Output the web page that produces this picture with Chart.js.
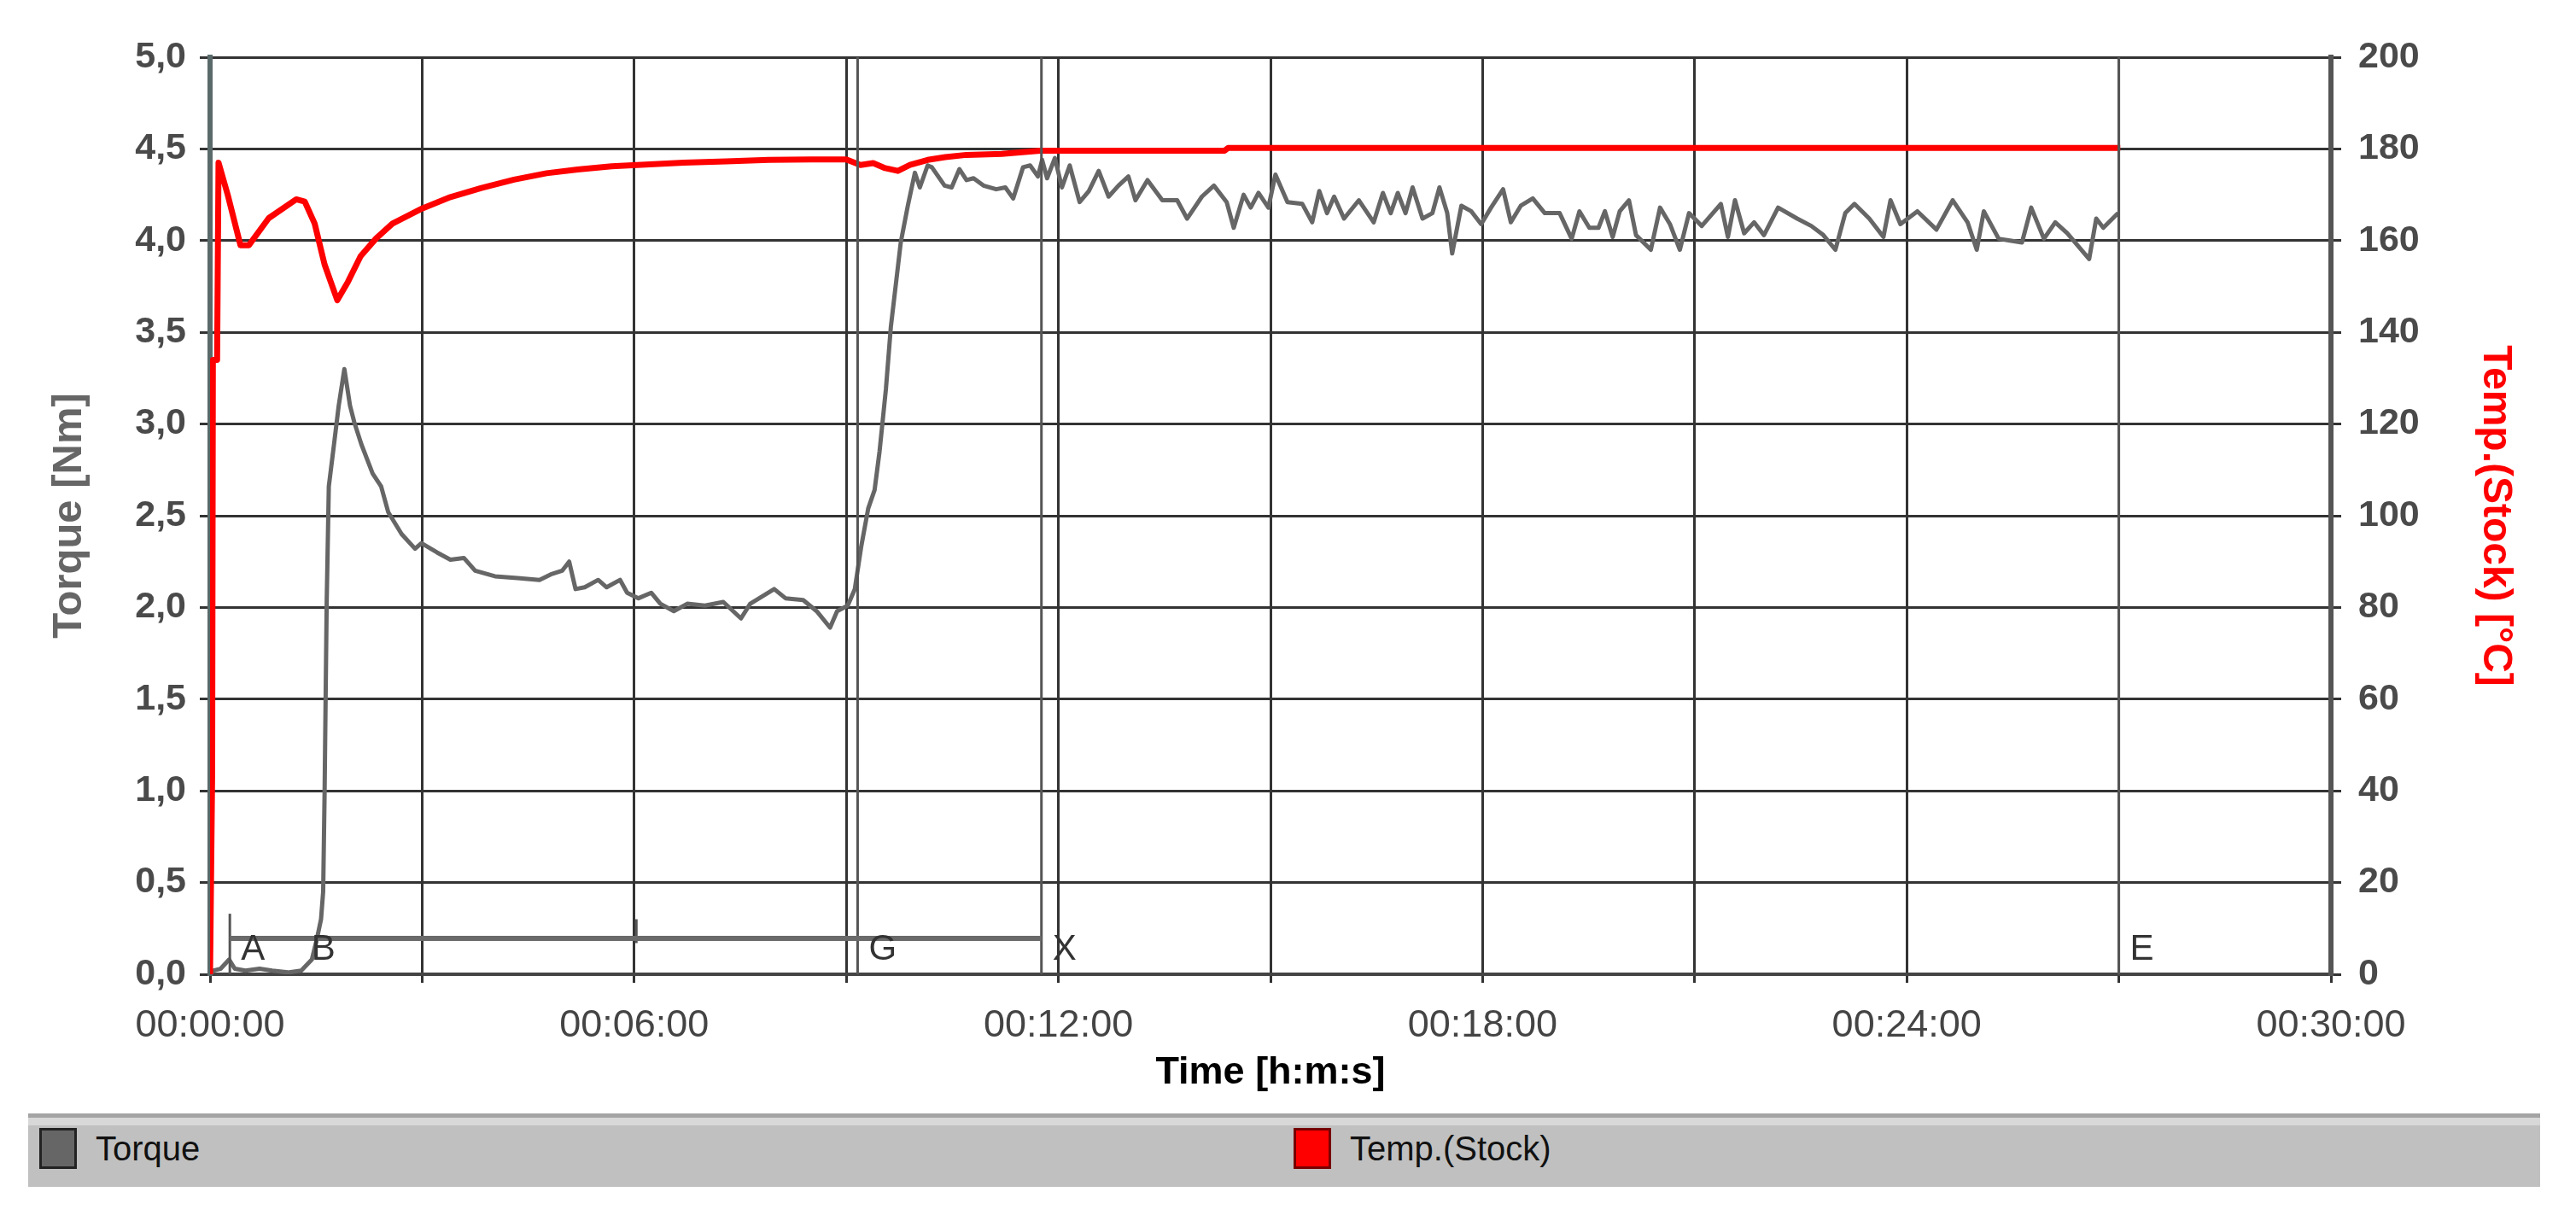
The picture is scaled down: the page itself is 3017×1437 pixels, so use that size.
<!DOCTYPE html>
<html>
<head>
<meta charset="utf-8">
<title>Torque / Temp.(Stock)</title>
<script src="https://cdn.jsdelivr.net/npm/chart.js@4.4.1/dist/chart.umd.min.js"></script>
<style>
  html, body { margin: 0; padding: 0; background: #fff; }
  #wrap { position: absolute; left: 0; top: 0; width: 3017px; height: 1300px; }
  #legend {
    position: absolute; left: 33px; top: 1304px; width: 2942px; height: 86px;
    background: linear-gradient(#a4a4a4 0, #a4a4a4 5px, #d8d8d8 5px, #d8d8d8 14px, #c0c0c0 14px);
    font-family: "Liberation Sans", sans-serif; font-size: 40px; color: #111;
  }
  .item { position: absolute; top: 14px; height: 54px; display: flex; align-items: center; }
  .swatch { width: 44px; height: 48px; box-sizing: border-box; margin-right: 22px; }
</style>
</head>
<body>
<div id="wrap"><canvas id="rheoChart"></canvas></div>
<div id="legend">
  <div class="item" style="left: 13px;"><span class="swatch" style="background:#666; border:3px solid #222;"></span>Torque</div>
  <div class="item" style="left: 1482px;"><span class="swatch" style="background:#ff0000; border:3px solid #700;"></span>Temp.(Stock)</div>
</div>
<script>
// time in minutes, torque in Nm
const torqueTime = [
  0, 0.05, 0.15, 0.27, 0.35, 0.5, 0.7, 0.88, 1.1, 1.29, 1.44, 1.51, 1.57, 1.60, 1.62, 1.65, 1.68, 1.76, 1.82, 1.90,
  1.98, 2.04, 2.14, 2.30, 2.42, 2.52, 2.71, 2.90, 2.99, 3.21, 3.40, 3.59, 3.75, 4.03, 4.35, 4.66, 4.82, 4.98, 5.08, 5.17,
  5.30, 5.49, 5.61, 5.80, 5.90, 6.06, 6.24, 6.37, 6.56, 6.75, 7.00, 7.26, 7.51, 7.64, 7.98, 8.14, 8.39, 8.58, 8.77, 8.87,
  9.02, 9.12, 9.21, 9.31, 9.40, 9.47, 9.56, 9.63, 9.77, 9.87, 9.97, 10.04, 10.15, 10.21, 10.39, 10.49, 10.60, 10.70, 10.80, 10.94,
  11.12, 11.25, 11.36, 11.50, 11.60, 11.71, 11.77, 11.84, 11.95, 12.05, 12.16, 12.30, 12.43, 12.57, 12.71, 12.85, 12.99, 13.09, 13.26, 13.47,
  13.68, 13.82, 14.03, 14.20, 14.38, 14.48, 14.62, 14.72, 14.83, 14.97, 15.07, 15.24, 15.45, 15.59, 15.69, 15.80, 15.90, 16.04, 16.25, 16.46,
  16.59, 16.70, 16.80, 16.91, 17.01, 17.15, 17.29, 17.39, 17.50, 17.57, 17.70, 17.84, 17.98, 18.12, 18.29, 18.40, 18.54, 18.71, 18.88, 19.09,
  19.26, 19.37, 19.51, 19.64, 19.73, 19.84, 19.94, 20.07, 20.17, 20.38, 20.51, 20.65, 20.79, 20.92, 21.10, 21.37, 21.47, 21.57, 21.70, 21.84,
  21.98, 22.18, 22.45, 22.65, 22.82, 22.99, 23.13, 23.26, 23.47, 23.67, 23.77, 23.91, 24.15, 24.42, 24.65, 24.86, 24.99, 25.09, 25.30, 25.46,
  25.63, 25.76, 25.94, 26.10, 26.27, 26.58, 26.68, 26.78, 26.99
];
const torqueValue = [
  0, 0.02, 0.03, 0.08, 0.03, 0.02, 0.03, 0.02, 0.01, 0.02, 0.08, 0.19, 0.30, 0.45, 0.98, 2.03, 2.66, 2.91, 3.10, 3.30,
  3.10, 3.01, 2.89, 2.73, 2.66, 2.52, 2.40, 2.32, 2.35, 2.30, 2.26, 2.27, 2.20, 2.17, 2.16, 2.15, 2.18, 2.20, 2.25, 2.10,
  2.11, 2.15, 2.11, 2.15, 2.08, 2.05, 2.08, 2.02, 1.98, 2.02, 2.01, 2.03, 1.94, 2.02, 2.10, 2.05, 2.04, 1.98, 1.89, 1.98,
  2.01, 2.10, 2.33, 2.54, 2.64, 2.85, 3.19, 3.53, 3.99, 4.19, 4.37, 4.29, 4.41, 4.40, 4.30, 4.29, 4.39, 4.33, 4.34, 4.30,
  4.28, 4.29, 4.23, 4.40, 4.41, 4.35, 4.44, 4.34, 4.45, 4.29, 4.41, 4.21, 4.27, 4.38, 4.24, 4.30, 4.35, 4.22, 4.33, 4.22,
  4.22, 4.12, 4.24, 4.30, 4.21, 4.07, 4.25, 4.18, 4.26, 4.18, 4.36, 4.21, 4.20, 4.10, 4.27, 4.15, 4.24, 4.12, 4.22, 4.10,
  4.26, 4.15, 4.26, 4.15, 4.29, 4.12, 4.15, 4.29, 4.15, 3.93, 4.19, 4.16, 4.09, 4.18, 4.28, 4.10, 4.19, 4.23, 4.15, 4.15,
  4.01, 4.16, 4.07, 4.07, 4.16, 4.02, 4.16, 4.22, 4.03, 3.95, 4.18, 4.09, 3.95, 4.15, 4.08, 4.20, 4.02, 4.22, 4.04, 4.10,
  4.03, 4.18, 4.12, 4.08, 4.03, 3.95, 4.15, 4.20, 4.12, 4.02, 4.22, 4.09, 4.16, 4.06, 4.22, 4.10, 3.95, 4.16, 4.01, 4.00,
  3.99, 4.18, 4.01, 4.10, 4.04, 3.90, 4.12, 4.07, 4.15
];

// time in minutes, stock temperature in °C
const tempTime = [
  0, 0.03, 0.04, 0.10, 0.12, 0.25, 0.43, 0.55, 0.83, 1.22, 1.34, 1.48, 1.62, 1.80, 1.95, 2.13, 2.35, 2.58, 3.0, 3.4,
  3.84, 4.3, 4.76, 5.2, 5.68, 6.7, 7.3, 7.9, 8.5, 9.0, 9.2, 9.38, 9.55, 9.73, 9.9, 10.15, 10.4, 10.7, 11.2, 11.74,
  14.35, 14.4, 27.02
];
const tempValue = [
  0, 44, 134, 134, 177, 170, 159, 159, 164.9, 169, 168.5, 163.7, 154.8, 147, 151, 156.6, 160.5, 163.7, 167, 169.5,
  171.5, 173.3, 174.7, 175.5, 176.2, 177, 177.3, 177.6, 177.7, 177.7, 176.5, 176.9, 175.8, 175.2, 176.5, 177.6, 178.2, 178.7, 178.9, 179.6,
  179.6, 180.2, 180.2
];

// event markers on the time axis
const markerLabels = ['A', 'B', 'G', 'X', 'E'];
const markerTimes = [0.28, 1.53, 9.16, 11.76, 27.0];
const markerFullLine = [false, false, true, true, true];
const barStart = 0.28;
const barEnd = 11.76;
const barLevel = 0.195;
const smallTickTimes = [6.03];

const timeLabel = m => '00:' + String(m).padStart(2, '0') + ':00';

const markersPlugin = {
    id: 'markers',
    afterDatasetsDraw(chart) {
        const ctx = chart.ctx;
        const x = chart.scales.x;
        const y = chart.scales.y;
        const area = chart.chartArea;
        ctx.save();
        ctx.strokeStyle = '#555';
        ctx.lineWidth = 3;
        // marker lines (B has none of its own)
        markerTimes.forEach((t, i) => {
            if (i === 1) return;
            const px = x.getPixelForValue(t);
            const top = markerFullLine[i] ? area.top : y.getPixelForValue(0.33);
            ctx.beginPath();
            ctx.moveTo(px, top);
            ctx.lineTo(px, area.bottom);
            ctx.stroke();
        });
        smallTickTimes.forEach(t => {
            const px = x.getPixelForValue(t);
            ctx.beginPath();
            ctx.moveTo(px, y.getPixelForValue(0.30));
            ctx.lineTo(px, y.getPixelForValue(0.17));
            ctx.stroke();
        });
        // horizontal bar between A and X
        ctx.strokeStyle = '#6a6a6a';
        ctx.lineWidth = 6;
        ctx.beginPath();
        ctx.moveTo(x.getPixelForValue(barStart), y.getPixelForValue(barLevel));
        ctx.lineTo(x.getPixelForValue(barEnd), y.getPixelForValue(barLevel));
        ctx.stroke();
        // letters
        ctx.fillStyle = '#333';
        ctx.font = '42px "Liberation Sans", sans-serif';
        ctx.textBaseline = 'middle';
        ctx.textAlign = 'left';
        markerTimes.forEach((t, i) => {
            const px = x.getPixelForValue(t);
            const dx = i === 1 ? -8 : 13;
            ctx.fillText(markerLabels[i], px + dx, y.getPixelForValue(0.135));
        });
        ctx.restore();
    }
};

document.addEventListener('DOMContentLoaded', function () {
    const torquePoints = torqueTime.map((t, i) => ({ x: t, y: torqueValue[i] }));
    const tempPoints = tempTime.map((t, i) => ({ x: t, y: tempValue[i] }));

    const ctx = document.getElementById('rheoChart').getContext('2d');
    const rheoChart = new Chart(ctx, {
        type: 'line',
        data: {
            datasets: [{
                label: 'Torque',
                data: torquePoints,
                yAxisID: 'y',
                borderColor: '#666666',
                borderWidth: 5,
                borderJoinStyle: 'round',
                pointRadius: 0,
                tension: 0,
                order: 1
            }, {
                label: 'Temp.(Stock)',
                data: tempPoints,
                yAxisID: 'y1',
                borderColor: '#ff0000',
                borderWidth: 7,
                borderJoinStyle: 'round',
                pointRadius: 0,
                tension: 0,
                order: 0
            }]
        },
        options: {
            responsive: true,
            maintainAspectRatio: false,
            animation: false,
            layout: {
                padding: { top: 67, left: 0, right: 0, bottom: 0 }
            },
            plugins: {
                legend: { display: false },
                tooltip: { enabled: false }
            },
            scales: {
                x: {
                    type: 'linear',
                    min: 0,
                    max: 30,
                    afterFit: s => { s.height = 159; },
                    border: { color: '#444', width: 4 },
                    grid: {
                        color: '#333',
                        lineWidth: 3,
                        tickLength: 10
                    },
                    ticks: {
                        stepSize: 3,
                        autoSkip: false,
                        maxRotation: 0,
                        padding: 24,
                        color: '#444',
                        font: { family: '"Liberation Sans", sans-serif', size: 45 },
                        callback: v => (v % 6 === 0 ? timeLabel(v) : '')
                    },
                    title: {
                        display: true,
                        text: 'Time [h:m:s]',
                        color: '#000',
                        font: { family: '"Liberation Sans", sans-serif', size: 45, weight: 'bold' },
                        padding: { top: 0, bottom: 16 }
                    }
                },
                y: {
                    position: 'left',
                    min: 0,
                    max: 5,
                    afterFit: s => { s.width = 246; },
                    border: { color: '#5a6a6a', width: 6 },
                    grid: {
                        color: '#333',
                        lineWidth: 3,
                        tickLength: 12
                    },
                    ticks: {
                        stepSize: 0.5,
                        padding: 16,
                        color: '#4a4a4a',
                        font: { family: '"Liberation Sans", sans-serif', size: 43, weight: 'bold' },
                        callback: v => v.toFixed(1).replace('.', ',')
                    },
                    title: {
                        display: true,
                        text: 'Torque [Nm]',
                        color: '#666',
                        font: { family: '"Liberation Sans", sans-serif', size: 49, weight: 'bold' },
                        padding: { top: 52, bottom: 0 }
                    }
                },
                y1: {
                    position: 'right',
                    min: 0,
                    max: 200,
                    afterFit: s => { s.width = 287; },
                    border: { color: '#555', width: 6 },
                    grid: {
                        drawOnChartArea: false,
                        color: '#333',
                        lineWidth: 3,
                        tickLength: 12
                    },
                    ticks: {
                        stepSize: 20,
                        padding: 20,
                        color: '#4a4a4a',
                        font: { family: '"Liberation Sans", sans-serif', size: 43, weight: 'bold' }
                    },
                    title: {
                        display: true,
                        text: 'Temp.(Stock) [°C]',
                        color: '#ff0000',
                        font: { family: '"Liberation Sans", sans-serif', size: 48, weight: 'bold' },
                        padding: { top: 66, bottom: 0 }
                    }
                }
            }
        },
        plugins: [markersPlugin]
    });

    window.rheoChart = rheoChart;
});
</script>
</body>
</html>
